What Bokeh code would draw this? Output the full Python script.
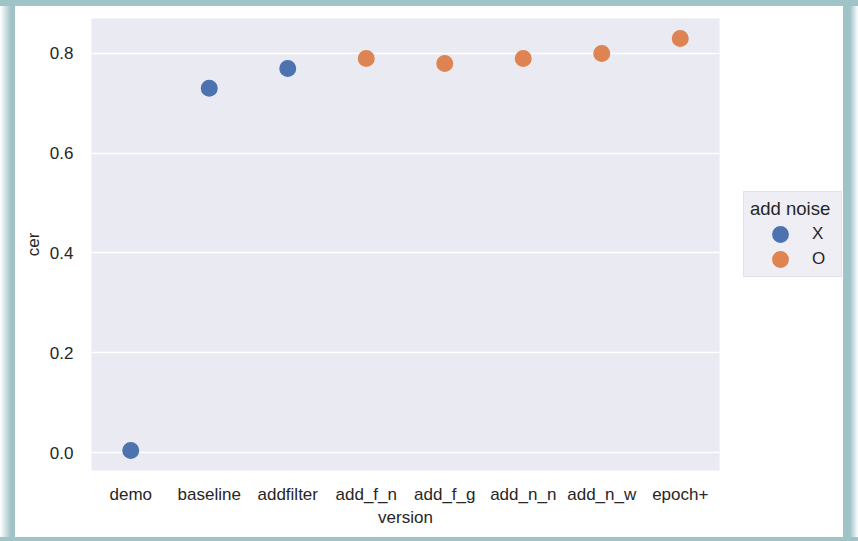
from bokeh.plotting import figure
from bokeh.models import ColumnDataSource, Legend, LegendItem, Range1d, FixedTicker, PrintfTickFormatter
from bokeh.embed import file_html
from bokeh.resources import INLINE

versions = ["demo", "baseline", "addfilter", "add_f_n", "add_f_g", "add_n_n", "add_n_w", "epoch+"]
cer = [0.004, 0.73, 0.77, 0.79, 0.78, 0.79, 0.80, 0.83]
noise = ["X", "X", "X", "O", "O", "O", "O", "O"]
groups = ["X", "O"]
colors = ["#4c72b0", "#dd8452"]
y_ticks = [0.0, 0.2, 0.4, 0.6, 0.8]

FONT = "Liberation Sans"
TXT = "#262626"
FRAME = "#a0c3c7"

p = figure(x_range=versions, y_range=Range1d(-0.036, 0.87),
           frame_width=628, frame_height=452,
           min_border_left=91, min_border_right=139, min_border_top=18, min_border_bottom=71,
           output_backend="svg", toolbar_location=None)
p.background_fill_color = "#eaeaf2"
p.border_fill_color = None
p.outline_line_color = None
p.styles = {
    "background": ("linear-gradient(to right, #ffffff 0px, %s 11px, %s 15px, #ffffff 15px, "
                   "#ffffff 843px, %s 843px, %s 850px, #ffffff 858px)") % (FRAME, FRAME, FRAME, FRAME),
    "box-shadow": "inset 0 6px 0 0 %s, inset 0 -4px 0 0 %s" % (FRAME, FRAME),
}

items = []
for g, c in zip(groups, colors):
    xs = [v for v, n in zip(versions, noise) if n == g]
    ys = [y for y, n in zip(cer, noise) if n == g]
    src = ColumnDataSource(dict(x=xs, y=ys))
    r = p.scatter("x", "y", source=src, size=9, fill_color=c, line_color=c, line_width=8)
    items.append(LegendItem(label=g, renderers=[r]))

p.xgrid.grid_line_color = None
p.ygrid.grid_line_color = "white"
p.ygrid.grid_line_width = 1.4
p.yaxis.ticker = FixedTicker(ticks=y_ticks)
p.yaxis.formatter = PrintfTickFormatter(format="%.1f")

for ax in (p.xaxis[0], p.yaxis[0]):
    ax.axis_line_color = None
    ax.major_tick_line_color = None
    ax.minor_tick_line_color = None
    ax.major_tick_out = 0
    ax.major_tick_in = 0
    ax.major_label_text_font = FONT
    ax.major_label_text_font_size = "17px"
    ax.major_label_text_color = TXT
    ax.axis_label_text_font = FONT
    ax.axis_label_text_font_size = "17px"
    ax.axis_label_text_font_style = "normal"
    ax.axis_label_text_color = TXT

p.xaxis.axis_label = "version"
p.yaxis.axis_label = "cer"
p.xaxis.major_label_standoff = 14
p.yaxis.major_label_standoff = 18
p.xaxis.axis_label_standoff = 1
p.yaxis.axis_label_standoff = 4

legend = Legend(items=items, location=(24, 193), title="add noise")
legend.margin = 0
legend.title_text_font = FONT
legend.title_text_font_size = "18.5px"
legend.title_text_font_style = "normal"
legend.title_text_color = TXT
legend.label_text_font = FONT
legend.label_text_font_size = "17px"
legend.label_text_color = TXT
legend.background_fill_color = "#eeeef4"
legend.background_fill_alpha = 1.0
legend.border_line_color = "#d4d4dc"
legend.padding = 6
legend.spacing = 3
legend.glyph_height = 22
legend.glyph_width = 60
legend.label_height = 22
legend.label_width = 23
legend.label_standoff = 2
legend.title_standoff = 3
p.add_layout(legend, "right")

open("out.html", "w").write(file_html(p, INLINE))
